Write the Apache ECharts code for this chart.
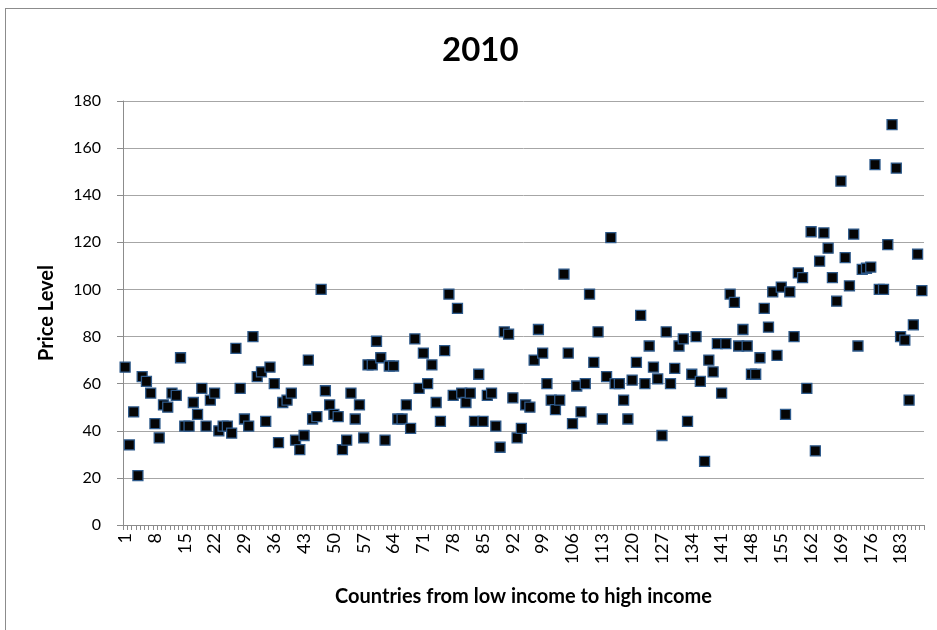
<!DOCTYPE html>
<html>
<head>
<meta charset="utf-8">
<script src="https://cdn.jsdelivr.net/npm/echarts@6/dist/echarts.min.js"></script>
<style>
  html, body { margin: 0; padding: 0; background: #fff; overflow: hidden; }
  #frame { position: absolute; left: 5px; top: 8px; width: 1000px; height: 700px; border: 1px solid #8c8c8c; }
  #chart { position: absolute; left: 0; top: 0; width: 937px; height: 630px; }
</style>
</head>
<body>
<div id="frame"></div>
<div id="chart"></div>
<script>
// price level per country, ordered from low income to high income
const priceLevel = [
  67, 34, 48, 21, 63, 61, 56, 43, 37, 51,
  50, 56, 55, 71, 42, 42, 52, 47, 58, 42,
  53, 56, 40, 42, 42, 39, 75, 58, 45, 42,
  80, 63, 65, 44, 67, 60, 35, 52, 53, 56,
  36, 32, 38, 70, 45, 46, 100, 57, 51, 47,
  46, 32, 36, 56, 45, 51, 37, 68, 68, 78,
  71, 36, 67.5, 67.5, 45, 45, 51, 41, 79, 58,
  73, 60, 68, 52, 44, 74, 98, 55, 92, 56,
  52, 56, 44, 64, 44, 55, 56, 42, 33, 82,
  81, 54, 37, 41, 51, 50, 70, 83, 73, 60,
  53, 49, 53, 106.5, 73, 43, 59, 48, 60, 98,
  69, 82, 45, 63, 122, 60, 60, 53, 45, 61.5,
  69, 89, 60, 76, 67, 62, 38, 82, 60, 66.5,
  76, 79, 44, 64, 80, 61, 27, 70, 65, 77,
  56, 77, 98, 94.5, 76, 83, 76, 64, 64, 71,
  92, 84, 99, 72, 101, 47, 99, 80, 107, 105,
  58, 124.5, 31.5, 112, 124, 117.5, 105, 95, 146, 113.5,
  101.5, 123.5, 76, 108.5, 109, 109.5, 153, 100, 100, 119,
  170, 151.5, 80, 78.5, 53, 85, 115, 99.5
];
const countries = priceLevel.map((v, i) => String(i + 1));

const titleText = '2010';
const xName = 'Countries from low income to high income';
const yName = 'Price Level';

const font = 'Lato, "Open Sans", sans-serif';

const chart = echarts.init(document.getElementById('chart'));
chart.setOption({
  animation: false,
  title: {
    text: titleText,
    left: 437,
    top: 29,
    textStyle: { fontFamily: font, fontSize: 33, fontWeight: 'bold', color: '#000' }
  },
  grid: { left: 123, right: 13, top: 101, bottom: 105 },
  xAxis: {
    type: 'category',
    data: countries,
    boundaryGap: true,
    name: xName,
    nameLocation: 'middle',
    nameGap: 62,
    nameTextStyle: { fontFamily: font, fontSize: 20, fontWeight: 'bold', color: '#000' },
    axisLine: { lineStyle: { color: '#8c8c8c' } },
    axisTick: { show: true, interval: 0, length: 5, lineStyle: { color: '#8c8c8c' } },
    axisLabel: {
      interval: 6,
      rotate: 90,
      margin: 8,
      fontFamily: font,
      fontSize: 18,
      color: '#000'
    },
    splitLine: { show: false }
  },
  yAxis: {
    type: 'value',
    min: 0,
    max: 180,
    interval: 20,
    name: yName,
    nameLocation: 'middle',
    nameGap: 66,
    nameTextStyle: { fontFamily: font, fontSize: 20, fontWeight: 'bold', color: '#000' },
    axisLine: { show: true, lineStyle: { color: '#8c8c8c' } },
    axisTick: { show: true, length: 6, lineStyle: { color: '#8c8c8c' } },
    axisLabel: { margin: 22, fontFamily: font, fontSize: 16, color: '#000' },
    splitLine: { lineStyle: { color: '#a6a6a6', width: 1 } }
  },
  series: [{
    type: 'scatter',
    data: priceLevel,
    symbol: 'rect',
    symbolSize: 10,
    itemStyle: { color: '#050505', borderColor: '#2f5b8c', borderWidth: 1.3, opacity: 1 }
  }]
});
</script>
</body>
</html>
